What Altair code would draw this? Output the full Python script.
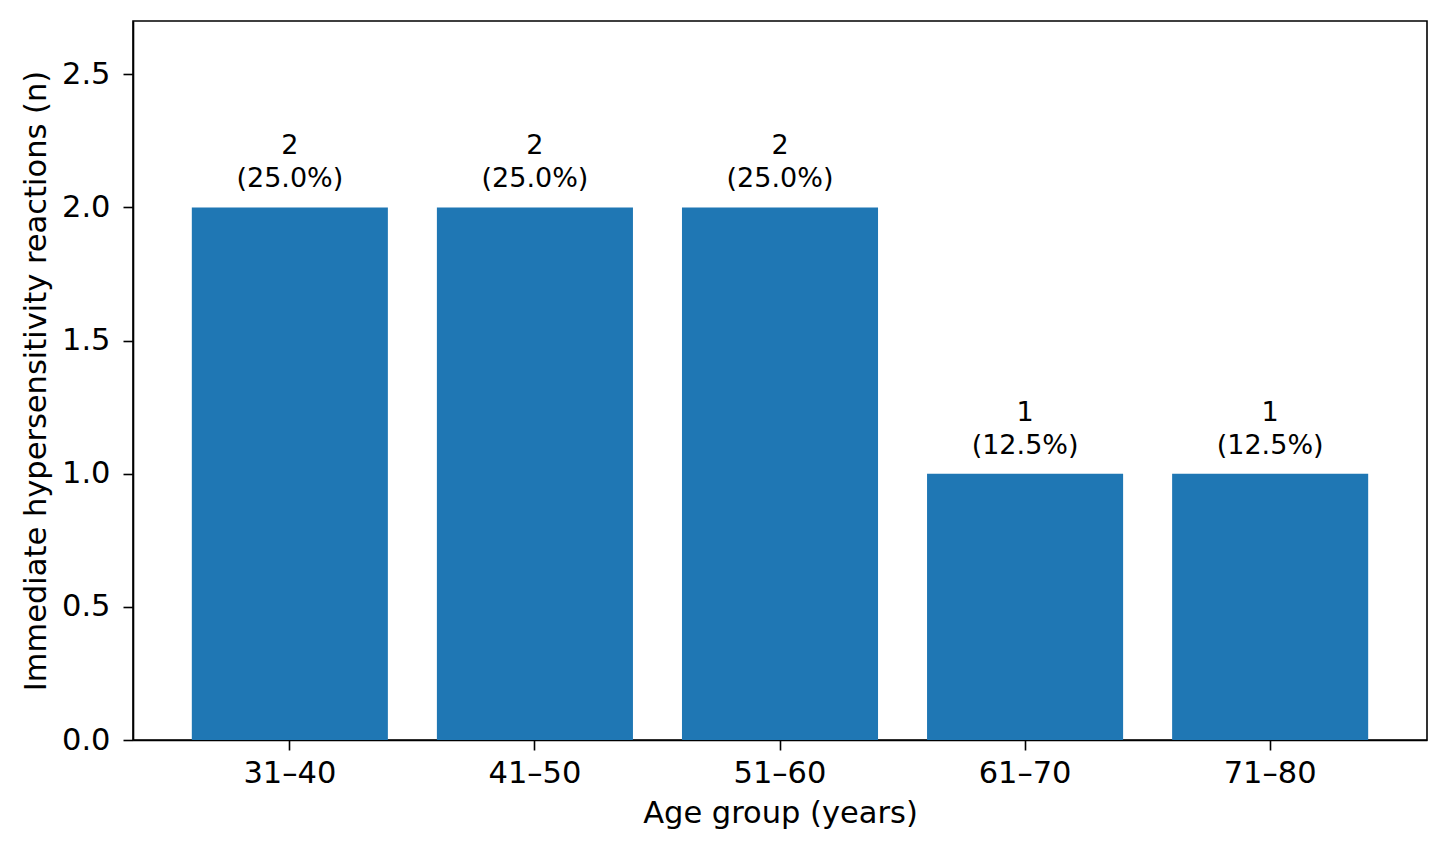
import altair as alt
import pandas as pd

categories = ["31–40", "41–50", "51–60", "61–70", "71–80"]
counts = [2, 2, 2, 1, 1]
percents = [25.0, 25.0, 25.0, 12.5, 12.5]

df = pd.DataFrame({
    "group": categories,
    "n": counts,
    "pct": percents,
})
df["label"] = [f"{n}\n({p:.1f}%)" for n, p in zip(counts, percents)]

FONT = "DejaVu Sans"
FS = 30.5

x_enc = alt.X(
    "group:N",
    sort=categories,
    title="Age group (years)",
    scale=alt.Scale(paddingInner=0.2, paddingOuter=0.24),
    axis=alt.Axis(labelAngle=0, labelFontSize=FS, titleFontSize=FS,
                  labelPadding=8, titlePadding=10),
)
y_enc = alt.Y(
    "n:Q",
    title="Immediate hypersensitivity reactions (n)",
    scale=alt.Scale(domain=[0, 2.7], nice=False),
    axis=alt.Axis(values=[0, 0.5, 1.0, 1.5, 2.0, 2.5], format=".1f",
                  labelFontSize=FS, titleFontSize=FS,
                  labelPadding=13, titlePadding=10),
)

bars = alt.Chart(df).mark_bar(color="#1f77b4").encode(x=x_enc, y=y_enc)

text = alt.Chart(df).mark_text(
    font=FONT, fontSize=27, baseline="bottom", align="center",
    lineBreak="\n", lineHeight=33, dy=-47, color="black",
).encode(x=alt.X("group:N", sort=categories), y="n:Q", text="label:N")

chart = (bars + text).properties(
    width=1294, height=719,
    autosize=alt.AutoSizeParams(type="none"),
    padding={"left": 125, "top": 13, "right": 15, "bottom": 100},
).configure_view(
    stroke="black", strokeWidth=1.6,
).configure_axis(
    grid=False, labelFont=FONT, titleFont=FONT,
    labelColor="black", titleColor="black",
    domainColor="black", domainWidth=1.6,
    tickColor="black", tickWidth=1.6, tickSize=10,
    titleFontWeight="normal",
)

chart.save("out.html", embed_options={"renderer": "svg", "actions": False})
